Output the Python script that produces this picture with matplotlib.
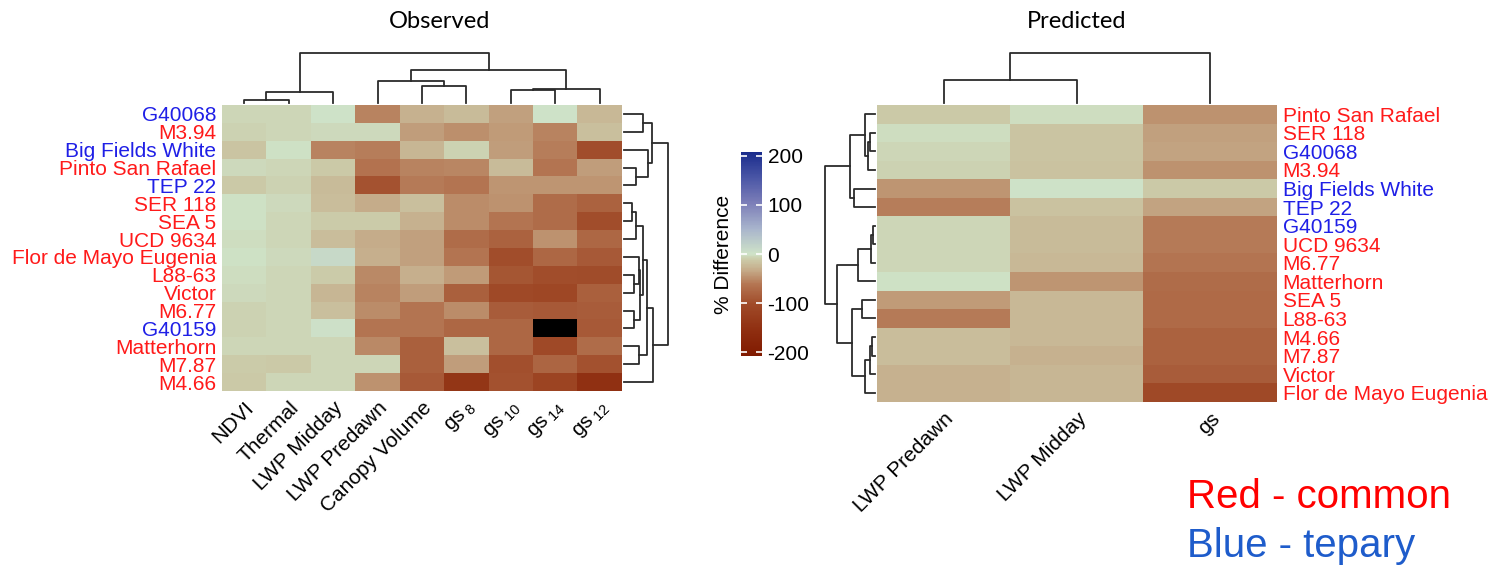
import numpy as np
import matplotlib
matplotlib.use("Agg")
import matplotlib.pyplot as plt
from matplotlib.colors import LinearSegmentedColormap, Normalize
from matplotlib.cm import ScalarMappable

plt.rcParams['font.family'] = ['Liberation Sans', 'DejaVu Sans']
plt.rcParams['mathtext.fontset'] = 'custom'
plt.rcParams['mathtext.rm'] = 'Liberation Sans'
plt.rcParams['axes.unicode_minus'] = False

# ---- data ----
obs_rows = ["G40068", "M3.94", "Big Fields White", "Pinto San Rafael", "TEP 22", "SER 118",
            "SEA 5", "UCD 9634", "Flor de Mayo Eugenia", "L88-63", "Victor", "M6.77",
            "G40159", "Matterhorn", "M7.87", "M4.66"]
obs_tepary = ["G40068", "Big Fields White", "TEP 22", "G40159"]
obs_cols = ["NDVI", "Thermal", "LWP Midday", "LWP Predawn", "Canopy Volume",
            r"gs$\,_{\mathregular{8}}$", r"gs$\,_{\mathregular{10}}$",
            r"gs$\,_{\mathregular{14}}$", r"gs$\,_{\mathregular{12}}$"]
nan = np.nan
obs_vals = [
    [-5, -6, 0, -55, -28, -22, -38, 0, -24],
    [-8, -6, -4, -4, -40, -48, -42, -55, -18],
    [-15, -1, -55, -58, -26, -8, -40, -57, -100],
    [-4, -6, -12, -65, -55, -53, -22, -62, -40],
    [-13, -8, -22, -95, -60, -62, -45, -45, -45],
    [-1, -4, -20, -32, -18, -50, -47, -70, -80],
    [-1, -5, -10, -10, -28, -50, -62, -70, -100],
    [-2, -5, -20, -32, -38, -70, -80, -47, -75],
    [-1, -4, 10, -30, -38, -62, -100, -75, -88],
    [-2, -5, -10, -52, -30, -42, -92, -100, -102],
    [-4, -6, -26, -55, -40, -82, -105, -108, -82],
    [-8, -6, -18, -50, -62, -50, -85, -88, -85],
    [-8, -6, 2, -62, -62, -75, -75, nan, -88],
    [-6, -6, -6, -52, -82, -18, -75, -105, -70],
    [-10, -12, -6, -6, -82, -40, -98, -77, -97],
    [-13, -6, -6, -47, -88, -140, -97, -115, -150],
]

pred_rows = ["Pinto San Rafael", "SER 118", "G40068", "M3.94", "Big Fields White", "TEP 22",
             "G40159", "UCD 9634", "M6.77", "Matterhorn", "SEA 5", "L88-63", "M4.66",
             "M7.87", "Victor", "Flor de Mayo Eugenia"]
pred_cols = ["LWP Predawn", "LWP Midday", "gs"]
pred_vals = [
    [-13, -2, -46],
    [-2, -16, -38],
    [-5, -16, -36],
    [-8, -17, -46],
    [-44, 1, -12],
    [-58, -17, -36],
    [-5, -22, -60],
    [-5, -22, -60],
    [-5, -24, -62],
    [-1, -44, -70],
    [-42, -24, -72],
    [-60, -24, -72],
    [-20, -24, -80],
    [-20, -28, -80],
    [-28, -26, -85],
    [-28, -26, -105],
]

# dendrogram merges: (child a, child b, height); new node id = n + k
obs_col_tree = [(0, 1, 3.4), (9, 2, 10.7), (4, 5, 16.7), (3, 11, 22.0),
                (6, 7, 13.4), (13, 8, 14.4), (12, 14, 33.4), (10, 15, 50.0)]
obs_row_tree = [(0, 1, 19), (3, 4, 11.7), (2, 17, 24), (16, 18, 28.3),
                (5, 6, 8.3), (20, 7, 11.7), (9, 10, 10), (8, 22, 15),
                (11, 12, 10), (23, 24, 16), (21, 25, 19.3), (13, 14, 15),
                (26, 27, 22.7), (28, 15, 29.3), (19, 29, 44)]
pred_col_tree = [(0, 1, 22.7), (3, 2, 50.3)]
pred_row_tree = [(1, 2, 5), (16, 3, 6.7), (0, 17, 10), (4, 5, 20.7), (18, 19, 25),
                 (6, 7, 1.7), (21, 8, 4), (22, 9, 16.7), (10, 11, 13.3),
                 (12, 13, 2.7), (25, 14, 5), (26, 15, 10), (24, 27, 22.7),
                 (23, 28, 38.3), (20, 29, 50)]

cb_ticks = [-200, -100, 0, 100, 200]

# ---- style ----
cmap = LinearSegmentedColormap.from_list("diff", [
    (0.0, "#801A00"), (0.125, "#8F2E10"), (0.25, "#A04A28"), (0.35, "#B47552"),
    (0.425, "#C6AE8C"), (0.475, "#CCCCAA"), (0.5, "#CFE3C8"), (0.625, "#A8B4CC"),
    (0.75, "#7C7EB8"), (0.875, "#4A56A6"), (1.0, "#1A2C8C")])
cmap.set_bad("black")
norm = Normalize(-208, 208)
RED, BLUE = "#FF1A1A", "#1F1FE6"
LINE = "#2b2b2b"

W, H = 1504, 568
fig = plt.figure(figsize=(W / 100, H / 100), dpi=100)


def ax_px(x0, y0, x1, y1):
    return fig.add_axes([x0 / W, 1 - y1 / H, (x1 - x0) / W, (y1 - y0) / H])


def dendro(ax, tree, n, orient):
    pos = {i: i + 0.5 for i in range(n)}
    hgt = {i: 0.0 for i in range(n)}
    for k, (a, b, h) in enumerate(tree):
        xs = [pos[a], pos[a], pos[b], pos[b]]
        hs = [hgt[a], h, h, hgt[b]]
        if orient == "top":
            ax.plot(xs, hs, color=LINE, lw=1.3, clip_on=False)
        else:
            ax.plot(hs, xs, color=LINE, lw=1.3, clip_on=False)
        pos[n + k] = (pos[a] + pos[b]) / 2
        hgt[n + k] = h
    ax.axis("off")


def heat(ax, vals, rows, cols, tepary, side):
    data = np.array(vals, dtype=float)
    ax.imshow(data, cmap=cmap, norm=norm, aspect="auto", interpolation="nearest",
              extent=(0, len(cols), len(rows), 0))
    for s in ax.spines.values():
        s.set_visible(False)
    ax.set_xticks(np.arange(len(cols)) + 0.5)
    ax.set_xticklabels(cols, rotation=45, ha="right", va="top",
                       rotation_mode="anchor", fontsize=15)
    ax.set_yticks(np.arange(len(rows)) + 0.5)
    ax.set_yticklabels(rows, fontsize=15)
    ax.tick_params(length=0, axis="x", pad=5)
    ax.tick_params(length=0, axis="y", pad=4)
    if side == "right":
        ax.yaxis.tick_right()
    for lab, name in zip(ax.get_yticklabels(), rows):
        lab.set_color(BLUE if name in tepary else RED)


# observed
ax1 = ax_px(222, 105, 622, 391)
heat(ax1, obs_vals, obs_rows, obs_cols, obs_tepary, "left")
axd = ax_px(222, 50, 622, 103)
dendro(axd, obs_col_tree, len(obs_cols), "top")
axd.set_xlim(0, len(obs_cols)); axd.set_ylim(0, 53)
axr = ax_px(624, 105, 672, 391)
dendro(axr, obs_row_tree, len(obs_rows), "side")
axr.set_xlim(0, 48); axr.set_ylim(len(obs_rows), 0)

# predicted
ax2 = ax_px(877, 105, 1277, 402)
heat(ax2, pred_vals, pred_rows, pred_cols, obs_tepary, "right")
axd2 = ax_px(877, 50, 1277, 103)
dendro(axd2, pred_col_tree, len(pred_cols), "top")
axd2.set_xlim(0, len(pred_cols)); axd2.set_ylim(0, 53)
axl2 = ax_px(820, 105, 875, 402)
dendro(axl2, pred_row_tree, len(pred_rows), "side")
axl2.set_xlim(55, 0); axl2.set_ylim(len(pred_rows), 0)

# colour bar
cax = ax_px(741, 152, 762, 356)
cb = fig.colorbar(ScalarMappable(norm=norm, cmap=cmap), cax=cax, ticks=cb_ticks)
cb.outline.set_visible(False)
cax.yaxis.set_ticks_position("both")
cax.tick_params(direction="in", length=4, width=1.2, color="white",
                labelleft=False, labelright=True, labelsize=15, pad=4)
cax.yaxis.set_label_position("left")
cax.set_ylabel("% Difference", fontsize=15, labelpad=6)

# titles and legend text
fig.text(440 / W, 1 - 22 / H, "Observed", ha="center", va="center", fontsize=17, family="Lato")
fig.text(1077 / W, 1 - 22 / H, "Predicted", ha="center", va="center", fontsize=17, family="Lato")
fig.text(1187 / W, 1 - 497 / H, "Red - common", ha="left", va="center", fontsize=29, color="#FF0000")
fig.text(1187 / W, 1 - 546 / H, "Blue - tepary", ha="left", va="center", fontsize=29, color="#1E5CCB")

fig.savefig("out.png", dpi=100)
